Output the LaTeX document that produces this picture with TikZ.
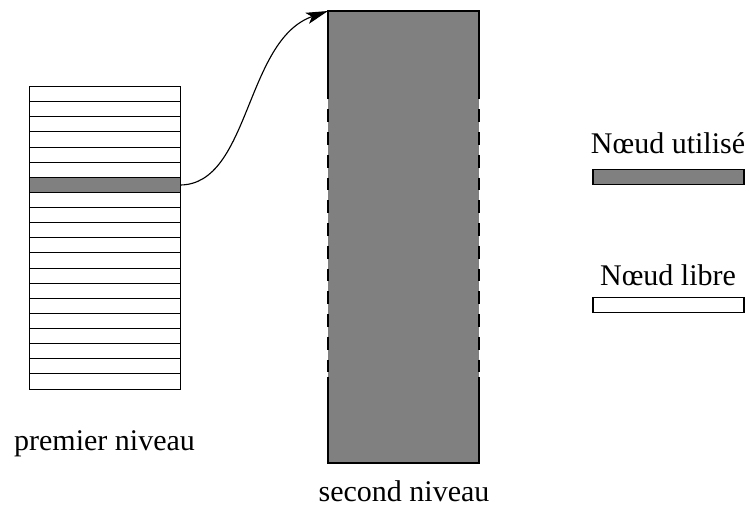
\documentclass[tikz,border=0pt]{standalone}
\usepackage{fontspec}
\setmainfont{Liberation Serif}
\usetikzlibrary{arrows.meta}
\definecolor{fillgray}{HTML}{808080}
\newlength{\pxu}
\setlength{\pxu}{0.4pt}
\tikzset{
  lbl/.style={anchor=base, inner sep=0pt, font=\fontsize{12}{14}\selectfont},
  rowbox/.style={draw=black, line width=0.45pt, fill=white, minimum width=151\pxu, minimum height=15\pxu, inner sep=0pt, outer sep=0pt},
  usedbox/.style={rowbox, fill=fillgray},
  edge/.style={line width=0.45pt},
  dashedge/.style={line width=0.55pt, dash pattern=on 5.1pt off 4pt},
}
\begin{document}
\begin{tikzpicture}[x=0.4pt, y=-0.4pt]
\useasboundingbox (0,0) rectangle (750,519);
% first level stack: 20 rows
\node[rowbox, minimum height=303\pxu] (first) at (105,238) {};
\foreach \i in {1,...,19} {
  \pgfmathsetmacro{\yy}{round(86+15.13*\i)+0.5}
  \draw[edge] (29.5,\yy) -- (180.5,\yy);
}
\node[usedbox] (used) at (105,185) {};
\node[lbl] (lvl1) at (104.5,450) {premier niveau};
% second level
\node[inner sep=0pt, outer sep=0pt, fill=fillgray, minimum width=151\pxu, minimum height=452\pxu] (second) at (403.5,237) {};
\draw[edge] (328,86.7) -- (second.north west) -- (second.north east) -- (479,86.7);
\draw[edge] (328,376.7) -- (second.south west) -- (second.south east) -- (479,376.7);
\draw[dashedge] (328,86.7) -- (328,376.7);
\draw[dashedge] (479,86.7) -- (479,376.7);
\node[lbl] (lvl2) at (404,501.5) {second niveau};
% arrow
\draw[edge, -{Stealth[length=8.8pt, width=4.6pt, inset=2pt]}] (used.east) .. controls (250,184) and (245,40) .. (second.north west);
% legend
\node[lbl] (lu) at (668,153) {Nœud utilisé};
\node[usedbox] (legused) at (668.5,177) {};
\node[lbl] (ll) at (668,285) {Nœud libre};
\node[rowbox] (legfree) at (668.5,305) {};
\end{tikzpicture}
\end{document}
